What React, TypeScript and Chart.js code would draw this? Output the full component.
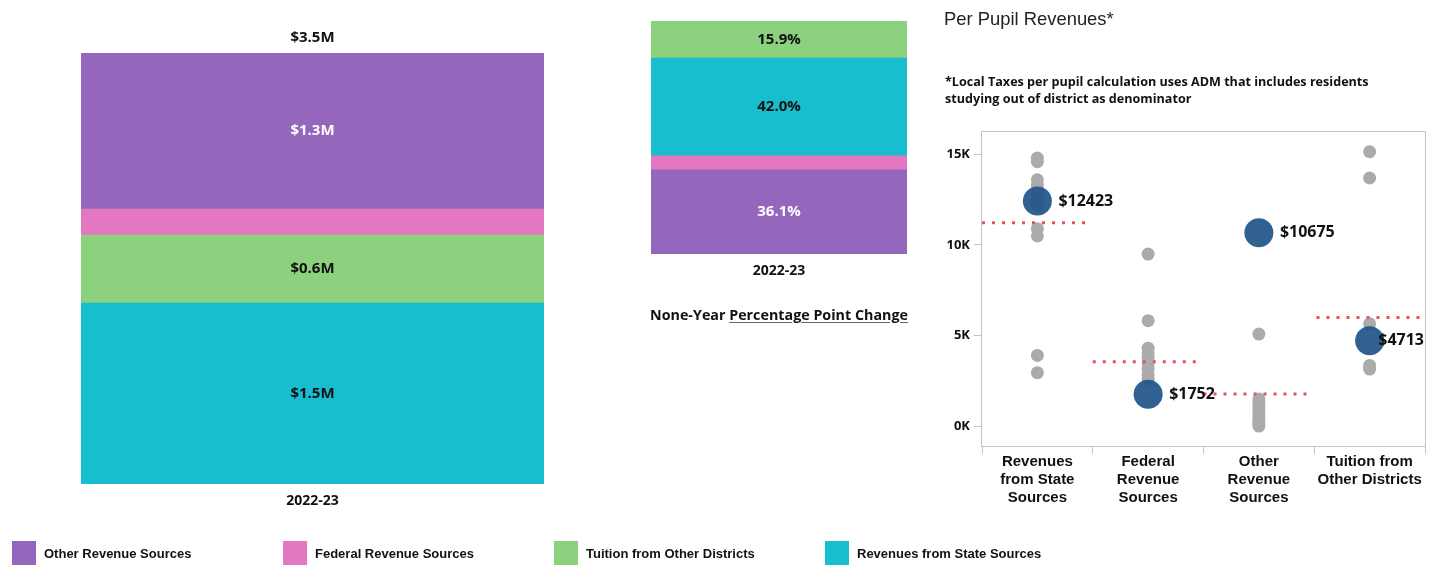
import React, { useEffect, useRef } from 'react';
import { Chart, registerables } from 'chart.js';

Chart.register(...registerables);

// ---------- data ----------
const years = ['2022-23'];

const seriesNames = [
  'Other Revenue Sources',
  'Federal Revenue Sources',
  'Tuition from Other Districts',
  'Revenues from State Sources',
];
const seriesColors = ['#9467bd', '#e377c2', '#8cd17d', '#17becf'];

// revenue totals in $M
const otherRevenueM = [1.267];
const federalRevenueM = [0.211];
const tuitionRevenueM = [0.552];
const stateRevenueM = [1.47];

// revenue shares in %
const otherPct = [36.1];
const federalPct = [6.0];
const statePct = [42.0];
const tuitionPct = [15.9];

// per pupil scatter
const perPupilCategories = [
  ['Revenues', 'from State', 'Sources'],
  ['Federal', 'Revenue', 'Sources'],
  ['Other', 'Revenue', 'Sources'],
  ['Tuition from', 'Other Districts'],
];
const stateOthers = [14800, 14600, 13600, 13300, 12900, 12500, 12200, 10900, 10500, 3900, 2950];
const federalOthers = [9500, 5820, 4300, 4050, 3750, 3450, 3150, 2850, 2600];
const otherOthers = [5080, 1500, 1300, 1100, 900, 700, 500, 300, 150, 0];
const tuitionOthers = [15150, 13700, 5650, 3350, 3150];
const districtPerPupil = [12423, 1752, 10675, 4713];
const peerAverage = [11230, 3550, 1770, 6000];
const yTickValues = [0, 5000, 10000, 15000];

const BOLD = '"Open Sans", "Liberation Sans", sans-serif';
const ARIAL = '"Liberation Sans", Arial, sans-serif';

// ---------- plugins ----------
const barLabelPlugin = (fmt: (v: number) => string, whiteIdx: number[], topLabel?: string) => ({
  id: 'barLabels',
  afterDatasetsDraw(chart: any) {
    const { ctx, chartArea } = chart;
    ctx.save();
    ctx.textAlign = 'center';
    ctx.textBaseline = 'middle';
    ctx.font = `bold 15px ${BOLD}`;
    chart.data.datasets.forEach((ds: any, di: number) => {
      const meta = chart.getDatasetMeta(di);
      meta.data.forEach((el: any, i: number) => {
        const h = Math.abs(el.base - el.y);
        if (h < 30) return;
        ctx.fillStyle = whiteIdx.includes(di) ? '#ffffff' : '#111111';
        ctx.fillText(fmt(ds.data[i]), el.x, (el.y + el.base) / 2);
      });
    });
    const cx = (chartArea.left + chartArea.right) / 2;
    ctx.fillStyle = '#111111';
    ctx.font = `bold 14px ${BOLD}`;
    ctx.fillText(String(chart.data.labels[0]), cx, chartArea.bottom + 17);
    if (topLabel) {
      ctx.font = `bold 15px ${BOLD}`;
      ctx.fillText(topLabel, cx, chartArea.top - 15);
    }
    ctx.restore();
  },
});

const frameAndLabelsPlugin = {
  id: 'frameLabels',
  beforeDatasetsDraw(chart: any) {
    const { ctx, chartArea } = chart;
    ctx.save();
    ctx.strokeStyle = '#c4c4c4';
    ctx.lineWidth = 1;
    ctx.strokeRect(chartArea.left - 0.5, chartArea.top - 0.5, chartArea.right - chartArea.left + 1, chartArea.bottom - chartArea.top + 1);
    ctx.restore();
  },
  afterDatasetsDraw(chart: any) {
    const { ctx, chartArea } = chart;
    const idx = chart.data.datasets.findIndex((d: any) => d.label === 'District');
    if (idx < 0) return;
    const meta = chart.getDatasetMeta(idx);
    ctx.save();
    ctx.font = `bold 16px ${BOLD}`;
    ctx.fillStyle = '#111111';
    ctx.textBaseline = 'middle';
    ctx.textAlign = 'left';
    meta.data.forEach((pt: any, i: number) => {
      const txt = `$${chart.data.datasets[idx].data[i].y}`;
      const w = ctx.measureText(txt).width;
      let x = pt.x + 21;
      if (x + w > chartArea.right - 1) x = chartArea.right - 1 - w;
      ctx.fillText(txt, x, pt.y);
    });
    ctx.restore();
  },
};

// ---------- components ----------
function TotalsChart() {
  const ref = useRef<HTMLCanvasElement>(null);
  useEffect(() => {
    const total = otherRevenueM[0] + federalRevenueM[0] + tuitionRevenueM[0] + stateRevenueM[0];
    const chart = new Chart(ref.current!, {
      type: 'bar',
      data: {
        labels: years,
        datasets: [
          { label: seriesNames[3], data: stateRevenueM, backgroundColor: seriesColors[3] },
          { label: seriesNames[2], data: tuitionRevenueM, backgroundColor: seriesColors[2] },
          { label: seriesNames[1], data: federalRevenueM, backgroundColor: seriesColors[1] },
          { label: seriesNames[0], data: otherRevenueM, backgroundColor: seriesColors[0] },
        ],
      },
      options: {
        animation: false,
        responsive: false,
        events: [],
        layout: { autoPadding: false, padding: { left: 81, right: 888, top: 53, bottom: 96 } },
        datasets: { bar: { barPercentage: 1, categoryPercentage: 1, borderWidth: 0 } },
        plugins: { legend: { display: false }, tooltip: { enabled: false } },
        scales: {
          x: { display: false, stacked: true },
          y: { display: false, stacked: true, min: 0, max: total },
        },
      },
      plugins: [barLabelPlugin((v) => `$${v.toFixed(1)}M`, [3], `$${total.toFixed(1)}M`)],
    });
    return () => chart.destroy();
  }, []);
  return <canvas ref={ref} width={1432} height={580} style={{ position: 'absolute', left: 0, top: 0 }} />;
}

function ShareChart() {
  const ref = useRef<HTMLCanvasElement>(null);
  useEffect(() => {
    const total = otherPct[0] + federalPct[0] + statePct[0] + tuitionPct[0];
    const chart = new Chart(ref.current!, {
      type: 'bar',
      data: {
        labels: years,
        datasets: [
          { label: seriesNames[0], data: otherPct, backgroundColor: seriesColors[0] },
          { label: seriesNames[1], data: federalPct, backgroundColor: seriesColors[1] },
          { label: seriesNames[3], data: statePct, backgroundColor: seriesColors[3] },
          { label: seriesNames[2], data: tuitionPct, backgroundColor: seriesColors[2] },
        ],
      },
      options: {
        animation: false,
        responsive: false,
        events: [],
        layout: { autoPadding: false, padding: { left: 651, right: 525, top: 21, bottom: 326 } },
        datasets: { bar: { barPercentage: 1, categoryPercentage: 1, borderWidth: 0 } },
        plugins: { legend: { display: false }, tooltip: { enabled: false } },
        scales: {
          x: { display: false, stacked: true },
          y: { display: false, stacked: true, min: 0, max: total },
        },
      },
      plugins: [barLabelPlugin((v) => `${v.toFixed(1)}%`, [0])],
    });
    return () => chart.destroy();
  }, []);
  return <canvas ref={ref} width={1432} height={580} style={{ position: 'absolute', left: 0, top: 0 }} />;
}

function PerPupilChart() {
  const ref = useRef<HTMLCanvasElement>(null);
  useEffect(() => {
    const others = [stateOthers, federalOthers, otherOthers, tuitionOthers];
    const grayPoints = others.flatMap((vals, i) => vals.map((v) => ({ x: i, y: v })));
    const bluePoints = districtPerPupil.map((v, i) => ({ x: i, y: v }));
    const avgLines = peerAverage.map((v, i) => ({
      type: 'line' as const,
      label: 'Average ' + i,
      data: [
        { x: i - (i === 3 ? 0.48 : 0.5), y: v },
        { x: i + (i === 3 ? 0.5 : 0.45), y: v },
      ],
      showLine: true,
      borderColor: '#e15759',
      borderWidth: 3,
      borderDash: [3, 7],
      borderCapStyle: 'butt' as const,
      pointRadius: 0,
      order: 1,
    }));
    const chart = new Chart(ref.current!, {
      type: 'scatter',
      data: {
        datasets: [
          {
            label: 'District',
            data: bluePoints,
            backgroundColor: 'rgba(30,84,136,0.92)',
            borderWidth: 0,
            pointRadius: 14.5,
            order: 0,
          },
          ...avgLines,
          {
            label: 'Other districts',
            data: grayPoints,
            backgroundColor: '#ababab',
            borderWidth: 0,
            pointRadius: 6.5,
            order: 2,
          },
        ] as any,
      },
      options: {
        animation: false,
        responsive: false,
        events: [],
        layout: { autoPadding: false, padding: { left: 930, right: 7, top: 132, bottom: 60 } },
        plugins: { legend: { display: false }, tooltip: { enabled: false } },
        scales: {
          x: {
            type: 'linear',
            min: -0.5,
            max: 3.5,
            border: { display: false },
            afterBuildTicks: (s: any) => {
              s.ticks = [-0.5, 0, 0.5, 1, 1.5, 2, 2.5, 3, 3.5].map((v) => ({ value: v }));
            },
            afterFit: (s: any) => {
              s.height = 74;
              s.paddingLeft = 0;
              s.paddingRight = 0;
            },
            grid: {
              drawOnChartArea: false,
              tickLength: 8,
              color: (c: any) => (c.tick && Number.isInteger(c.tick.value) ? 'rgba(0,0,0,0)' : '#c4c4c4'),
            },
            ticks: {
              autoSkip: false,
              maxRotation: 0,
              minRotation: 0,
              padding: -1,
              color: '#111111',
              font: { family: ARIAL, size: 15, weight: 'bold', lineHeight: 1.2 },
              callback: (v: any) => (Number.isInteger(v) ? perPupilCategories[v] : ''),
            },
          },
          y: {
            type: 'linear',
            min: -1100,
            max: 16240,
            border: { display: false },
            afterBuildTicks: (s: any) => {
              s.ticks = yTickValues.map((v) => ({ value: v }));
            },
            afterFit: (s: any) => {
              s.width = 52;
              s.paddingTop = 0;
              s.paddingBottom = 0;
            },
            grid: { drawOnChartArea: false, tickLength: 8, color: '#c4c4c4' },
            ticks: {
              padding: 4,
              color: '#111111',
              font: { family: BOLD, size: 13, weight: 'bold' },
              callback: (v: any) => `${Number(v) / 1000}K`,
            },
          },
        },
      },
      plugins: [frameAndLabelsPlugin],
    });
    return () => chart.destroy();
  }, []);
  return <canvas ref={ref} width={1432} height={580} style={{ position: 'absolute', left: 0, top: 0 }} />;
}

const legendLefts = [12, 283, 554, 825];

export default function App() {
  return (
    <div style={{ position: 'fixed', left: 0, top: 0, width: 1432, height: 580, background: '#ffffff', overflow: 'hidden' }}>
      <TotalsChart />
      <ShareChart />
      <PerPupilChart />
      <div
        style={{
          position: 'absolute',
          left: 640,
          top: 304,
          width: 278,
          textAlign: 'center',
          fontFamily: BOLD,
          fontWeight: 700,
          fontSize: 14.3,
          lineHeight: '22px',
          color: '#111',
          whiteSpace: 'nowrap',
        }}
      >
        None-Year{' '}
        <span style={{ textDecoration: 'underline', textDecorationColor: '#666', textUnderlineOffset: 2 }}>
          Percentage Point Change
        </span>
      </div>
      <div
        style={{
          position: 'absolute',
          left: 944,
          top: 7,
          fontFamily: ARIAL,
          fontSize: 18.4,
          lineHeight: '24px',
          color: '#222',
          whiteSpace: 'nowrap',
        }}
      >
        Per Pupil Revenues*
      </div>
      <div
        style={{
          position: 'absolute',
          left: 945,
          top: 73,
          width: 480,
          fontFamily: BOLD,
          fontWeight: 700,
          fontSize: 12.6,
          lineHeight: '17px',
          color: '#111',
          whiteSpace: 'nowrap',
        }}
      >
        *Local Taxes per pupil calculation uses ADM that includes residents
        <br />
        studying out of district as denominator
      </div>
      {seriesNames.map((name, i) => (
        <div
          key={name}
          style={{
            position: 'absolute',
            left: legendLefts[i],
            top: 541,
            height: 24,
            display: 'flex',
            alignItems: 'center',
            whiteSpace: 'nowrap',
          }}
        >
          <div style={{ width: 24, height: 24, background: seriesColors[i], marginRight: 8 }} />
          <span style={{ fontFamily: ARIAL, fontWeight: 700, fontSize: 13, color: '#111' }}>{name}</span>
        </div>
      ))}
    </div>
  );
}
